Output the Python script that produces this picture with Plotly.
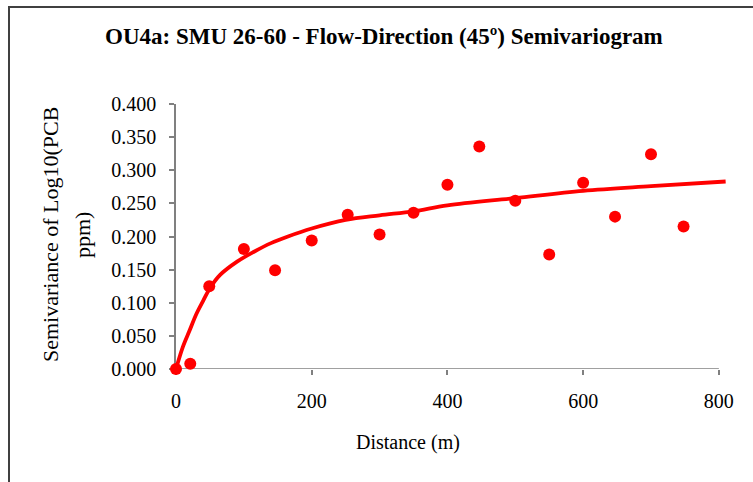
import plotly.graph_objects as go

# Experimental semivariogram (lag distance in m, semivariance of log10 PCB)
lag_m = [0, 21, 49, 100, 146, 200, 253, 300, 350, 400, 447, 500, 550, 600, 647, 700, 748]
semivar = [0.000, 0.008, 0.125, 0.181, 0.149, 0.194, 0.233, 0.203, 0.236, 0.278,
           0.336, 0.254, 0.173, 0.281, 0.230, 0.324, 0.215]

# Fitted model curve
model_x = [0, 10, 20, 30, 40, 50, 65, 90, 115, 140, 165, 200, 250, 300, 350,
           400, 500, 600, 700, 810]
model_y = [0.000, 0.033, 0.058, 0.083, 0.103, 0.122, 0.142, 0.162, 0.177, 0.190,
           0.200, 0.212, 0.225, 0.232, 0.238, 0.247, 0.258, 0.269, 0.276, 0.283]

x_ticks = [0, 200, 400, 600, 800]
y_ticks = [0.0, 0.05, 0.10, 0.15, 0.20, 0.25, 0.30, 0.35, 0.40]

RED = "#FF0000"
AXIS = "#808080"
FONT = "Liberation Serif, Times New Roman, serif"

fig = go.Figure()
fig.add_trace(go.Scatter(
    x=model_x, y=model_y, mode="lines", line=dict(color=RED, width=3.8, shape="spline"),
    hoverinfo="skip", showlegend=False,
))
fig.add_trace(go.Scatter(
    x=lag_m, y=semivar, mode="markers", marker=dict(color=RED, size=12),
    cliponaxis=False, showlegend=False,
))

W, H = 753, 482
L, R, T, B = 176, 26, 104, 113
pw = W - L - R
ph = H - T - B


def px_to_paper_x(px):
    return (px - L) / pw


def px_to_paper_y(py):
    return (H - B - py) / ph


def label(text, px, py, size, angle=0):
    return dict(text=text, xref="paper", yref="paper",
                x=px_to_paper_x(px), y=px_to_paper_y(py),
                xanchor="center", yanchor="middle", showarrow=False,
                textangle=angle, font=dict(family=FONT, size=size))


fig.update_layout(
    width=W, height=H,
    margin=dict(l=L, r=R, t=T, b=B),
    paper_bgcolor="white", plot_bgcolor="white",
    font=dict(family=FONT, size=20, color="black"),
    xaxis=dict(
        range=[0, 812], tickvals=x_ticks, ticktext=[str(v) for v in x_ticks],
        showgrid=False, zeroline=False, showline=False,
        ticks="outside", ticklen=5, tickwidth=1.5, tickcolor=AXIS,
        ticklabelstandoff=9, layer="below traces",
        tickfont=dict(family=FONT, size=20),
    ),
    yaxis=dict(
        range=[0, 0.4], tickvals=y_ticks, tickformat=".3f",
        showgrid=False, zeroline=False, showline=True, linecolor=AXIS, linewidth=1.5,
        ticks="outside", ticklen=5, tickwidth=1.5, tickcolor=AXIS,
        ticklabelstandoff=9, layer="below traces",
        tickfont=dict(family=FONT, size=20),
    ),
    shapes=[
        # x-axis baseline up to 800 m
        dict(type="line", xref="x", yref="y", x0=0, x1=800, y0=0, y1=0,
             line=dict(color=AXIS, width=1.5), layer="below"),
        # chart frame
        dict(type="rect", xref="paper", yref="paper",
             x0=px_to_paper_x(9), x1=px_to_paper_x(W + 20),
             y0=px_to_paper_y(H + 20), y1=px_to_paper_y(7),
             line=dict(color="#404040", width=2), layer="below"),
    ],
    annotations=[
        label("<b>OU4a: SMU 26-60 - Flow-Direction (45º) Semivariogram</b>", 384, 36, 23),
        label("Distance (m)", 408, 442, 20),
        label("Semivariance of Log10(PCB", 50, 235, 22, -90),
        label("ppm)", 82, 235, 22, -90),
    ],
)

fig.write_html("out.html")
